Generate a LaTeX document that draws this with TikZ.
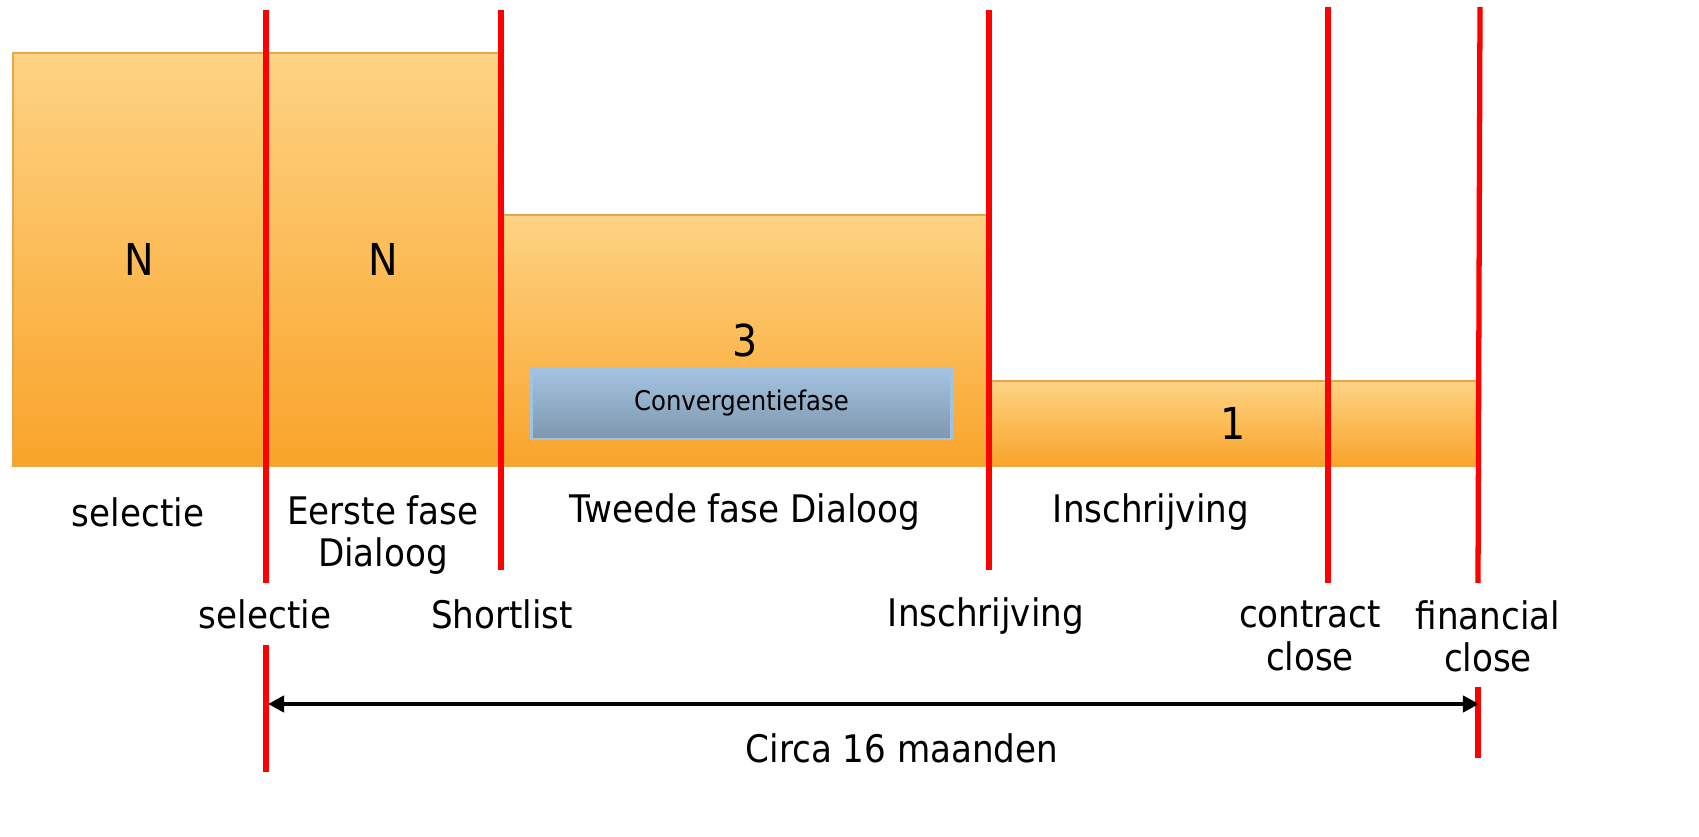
\documentclass[tikz,border=0pt]{standalone}
\usepackage{xcolor}
\usepackage{fontspec}
\setmainfont{DejaVu Sans Condensed}
\usepackage{tikz}
\usetikzlibrary{arrows.meta}
\usetikzlibrary{positioning}
\definecolor{fasetop}{HTML}{FED384}
\definecolor{fasebot}{HTML}{F9A42A}
\definecolor{faserand}{HTML}{E6A64A}
\definecolor{convtop}{HTML}{A5C4E2}
\definecolor{convbot}{HTML}{7E97AD}
\definecolor{convrand}{HTML}{9DC3E6}
\tikzset{
    fasebox/.style = {rectangle, draw=faserand, line width=0.6pt, top color=fasetop, bottom color=fasebot, inner sep=0pt, font=\fontsize{12.5}{15}\selectfont},
    convbox/.style = {rectangle, draw=convrand, line width=0.8pt, top color=convtop, bottom color=convbot, inner sep=0pt, font=\fontsize{7.7}{9}\selectfont},
    tekst/.style = {inner sep=0pt, align=center, font=\fontsize{10.8}{12}\selectfont},
}

\begin{document}
\begin{tikzpicture}[
	x=0.01cm,
	y=-0.01cm,
	thick
]
\tikzset{
    mijlpaal/.style = {-, line width=1.5pt, red},
    duur/.style = {{Triangle[length=4.6pt,width=4.6pt]}-{Triangle[length=4.6pt,width=4.6pt]}, line width=1.3pt, black},
}
\useasboundingbox (0,0) rectangle (1699,837);
% fasen
\node[fasebox, minimum width=2.53cm, minimum height=4.13cm] at (139.5,259.5) (sel) {N};
\node[fasebox, minimum width=2.34cm, minimum height=4.13cm] at (383,259.5) (eerste) {N};
\node[fasebox, minimum width=4.86cm, minimum height=2.51cm] at (745,340.5) (tweede) {3};
\node[fasebox, minimum width=4.87cm, minimum height=0.85cm] at (1233.5,423.5) (inschr) {1};
\node[convbox, minimum width=4.19cm, minimum height=0.71cm] at (741.5,403.5) (conv) {Convergentiefase};
%
\node[tekst] at (138,512) (fsel) {selectie};
\node[tekst] at (383,535) (feerste) {Eerste fase\\Dialoog};
\node[tekst] at (745,512) (ftweede) {Tweede fase Dialoog};
\node[tekst] at (1151,512) (finschr) {Inschrijving};
% mijlpalen
\draw[mijlpaal] (266,10) -- (266,583);
\draw[mijlpaal] (266,645) -- (266,772);
\draw[mijlpaal] (501,10) -- (501,570);
\draw[mijlpaal] (989,10) -- (989,570);
\draw[mijlpaal] (1328,7) -- (1328,583);
\draw[mijlpaal] (1480,7) -- (1478,583);
\draw[mijlpaal] (1478,687) -- (1478,758);
%
\node[tekst] at (265,614) (msel) {selectie};
\node[tekst] at (502,614) (mshort) {Shortlist};
\node[tekst] at (986,616) (minschr) {Inschrijving};
\node[tekst] at (1310,636) (mcontract) {contract\\close};
\node[tekst] at (1488,636) (mfinancial) {financial\\close};
% doorlooptijd
\coordinate (begin) at (268,704);
\coordinate (eind) at (1479,704);
\draw[duur] (begin) -- (eind);
\node[tekst] at (902,748) (circa) {Circa 16 maanden};
\end{tikzpicture}
\end{document}
